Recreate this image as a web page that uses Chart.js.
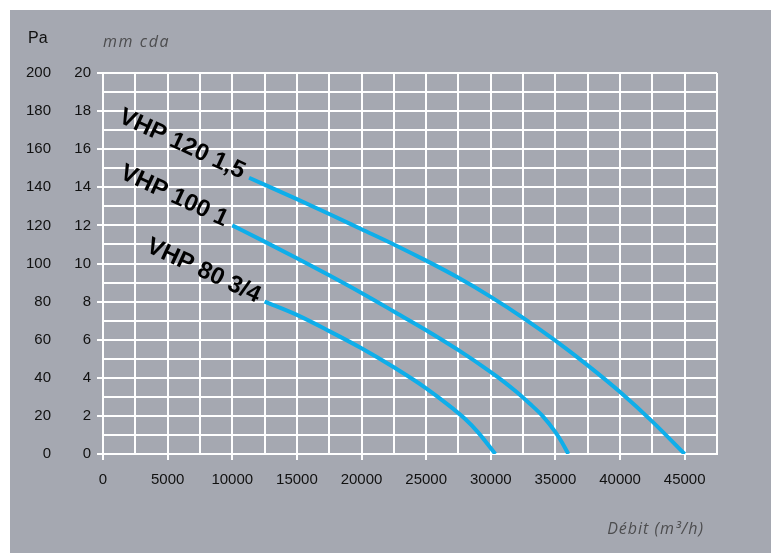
<!DOCTYPE html>
<html>
<head>
<meta charset="utf-8">
<script src="https://cdn.jsdelivr.net/npm/chart.js@4.4.1/dist/chart.umd.min.js"></script>
<style>
  html, body { margin: 0; padding: 0; background: #fff; }
  #wrap { position: absolute; left: 10px; top: 10px; width: 761px; height: 543px; background: #a5a8b1; }
</style>
</head>
<body>
<div id="wrap"><canvas id="chartFan"></canvas></div>
<script>
// courbes débit / pression (mm cda)
const curveNames = ["VHP 120 1,5", "VHP 100 1", "VHP 80 3/4"];
const flow120 = [11300, 15000, 17500, 20000, 22500, 25000, 27500, 30000, 32500, 35000, 37500, 40000, 42500, 45000];
const press120 = [14.5, 13.38, 12.6, 11.8, 11.0, 10.15, 9.25, 8.25, 7.15, 5.95, 4.65, 3.25, 1.7, 0];
const flow100 = [10000, 12500, 15000, 17500, 20000, 22500, 25000, 27500, 30000, 31000, 32000, 33000, 34000, 35000, 35500, 36000];
const press100 = [12.0, 11.15, 10.28, 9.38, 8.45, 7.48, 6.5, 5.45, 4.3, 3.8, 3.25, 2.65, 2.0, 1.15, 0.62, 0];
const flow80 = [12500, 15000, 17500, 20000, 22500, 25000, 26000, 27000, 28000, 29000, 30350];
const press80 = [8.0, 7.3, 6.45, 5.55, 4.55, 3.45, 2.95, 2.42, 1.85, 1.15, 0];

const lineColor = "#0eaeea";
const mainFont = "'Liberation Sans', Arial, sans-serif";

Chart.defaults.font.family = mainFont;
Chart.defaults.font.size = 15;
Chart.defaults.color = "#111";

function pts(xs, ys) {
  return xs.map((x, i) => ({ x: x, y: ys[i] }));
}

const textPlugin = {
  id: "textPlugin",
  afterDatasetsDraw(chart) {
    const c = chart.ctx;
    chart.data.datasets.forEach((ds, i) => {
      const p = chart.getDatasetMeta(i).data[0];
      c.save();
      c.translate(p.x, p.y);
      c.rotate(25 * Math.PI / 180);
      c.font = "bold 24px " + mainFont;
      c.fillStyle = "#000";
      c.textAlign = "right";
      c.textBaseline = "middle";
      c.fillText(ds.label, -7, -2);
      c.restore();
    });

    c.save();
    c.fillStyle = "#111";
    c.font = "16px " + mainFont;
    c.textAlign = "left";
    c.textBaseline = "alphabetic";
    c.fillText("Pa", 18, 32.5);

    c.fillStyle = "#4d4d4f";
    c.font = "italic 16px 'Open Sans', sans-serif";
    c.letterSpacing = "1.6px";
    c.fillText("mm cda", 93, 37);
    c.letterSpacing = "1px";
    c.textAlign = "right";
    c.fillText("Débit (m³/h)", 694, 524);
    c.restore();
  }
};

const ctxFan = document.getElementById("chartFan").getContext("2d");
const chartFan = new Chart(ctxFan, {
  type: "line",
  data: {
    datasets: [
      { label: curveNames[0], data: pts(flow120, press120) },
      { label: curveNames[1], data: pts(flow100, press100) },
      { label: curveNames[2], data: pts(flow80, press80) }
    ].map(d => Object.assign(d, {
      borderColor: lineColor,
      borderWidth: 4,
      pointRadius: 0,
      fill: false,
      cubicInterpolationMode: "monotone",
      yAxisID: "y"
    }))
  },
  options: {
    responsive: true,
    maintainAspectRatio: false,
    animation: false,
    layout: { padding: { left: 0, top: 63, right: 54, bottom: 0 } },
    plugins: { legend: { display: false }, tooltip: { enabled: false } },
    scales: {
      x: {
        type: "linear",
        min: 0,
        max: 47500,
        afterFit: s => { s.height = 99; },
        ticks: {
          stepSize: 2500,
          padding: 11,
          maxRotation: 0,
          autoSkip: false,
          callback: v => (v % 5000 === 0 && v <= 45000) ? String(v) : ""
        },
        grid: {
          color: "#fff",
          lineWidth: 2,
          tickLength: 6,
          tickColor: ctx => (ctx.tick && ctx.tick.value % 5000 === 0) ? "#fff" : "rgba(0,0,0,0)"
        },
        border: { color: "#fff", width: 2 }
      },
      y: {
        type: "linear",
        position: "left",
        weight: 0,
        min: 0,
        max: 20,
        afterFit: s => { s.width = 45; },
        ticks: {
          stepSize: 1,
          padding: 6,
          autoSkip: false,
          callback: v => (v % 2 === 0) ? String(v) : ""
        },
        grid: {
          color: "#fff",
          lineWidth: 2,
          tickLength: 6,
          tickColor: ctx => (ctx.tick && ctx.tick.value % 2 === 0) ? "#fff" : "rgba(0,0,0,0)"
        },
        border: { color: "#fff", width: 2 }
      },
      pa: {
        type: "linear",
        position: "left",
        weight: 1,
        min: 0,
        max: 200,
        afterFit: s => { s.width = 48; },
        ticks: { stepSize: 20, padding: 7, autoSkip: false, callback: v => String(v) },
        grid: { display: false, drawTicks: false },
        border: { display: false }
      }
    }
  },
  plugins: [textPlugin]
});
</script>
</body>
</html>
